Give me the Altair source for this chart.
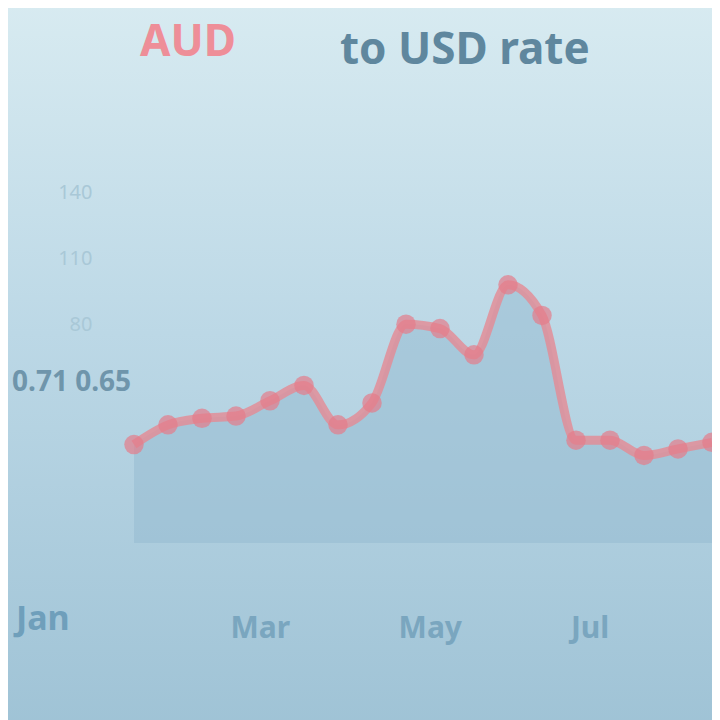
import altair as alt
import pandas as pd

# Data read from the (blurred) reference
steps = list(range(18))
values = [25, 34, 37, 38, 45, 52, 34, 44, 80, 78, 66, 98, 84, 27, 27, 20, 23, 26]
x_tick_steps = [3.7, 8.7, 13.4]
x_tick_labels = ["Mar", "May", "Jul"]
y_ticks = [80, 110, 140]

df = pd.DataFrame({"step": steps, "value": values})

W, H = 612, 372
PL, PT = 92, 163

bg = alt.Chart(pd.DataFrame({"a": [0]})).mark_rect(
    color=alt.Gradient(
        gradient="linear",
        stops=[alt.GradientStop(color="#d8ebf1", offset=0),
               alt.GradientStop(color="#bcd8e6", offset=0.45),
               alt.GradientStop(color="#9ec2d5", offset=1)],
        x1=0, x2=0, y1=0, y2=1,
    )
).encode(x=alt.value(-PL - 10), x2=alt.value(W + 20),
         y=alt.value(-PT - 10), y2=alt.value(H + 200))

label_expr = "datum.value < 5 ? 'Mar' : datum.value < 10 ? 'May' : 'Jul'"
x_enc = alt.X("step:Q", scale=alt.Scale(domain=[-1, 17], nice=False),
              axis=alt.Axis(values=x_tick_steps, labelExpr=label_expr,
                            title=None, domain=False, ticks=False, grid=False,
                            labelFontSize=30, labelColor="#7aa6bf", labelPadding=70,
                            labelFont="Noto Sans", labelFontWeight="bold", zindex=1))
y_enc = alt.Y("value:Q", scale=alt.Scale(domain=[-20, 150], nice=False),
              axis=alt.Axis(values=y_ticks, title=None, domain=False, ticks=False,
                            grid=False, labelFontSize=20, labelColor="#a9c8d7",
                            labelPadding=8, labelFont="Noto Sans", zindex=1))

area = alt.Chart(df).mark_area(color="#93bad0", opacity=0.5, interpolate="monotone").encode(
    x=x_enc, y=y_enc, y2=alt.datum(-20))

line = alt.Chart(df).mark_line(color="#e58a94", strokeWidth=9, opacity=0.8,
                               interpolate="monotone").encode(x=x_enc, y=y_enc)

pts = alt.Chart(df).mark_circle(color="#e47c8a", size=380, opacity=0.7).encode(
    x=x_enc, y=y_enc)

title_red = alt.Chart(pd.DataFrame({"t": ["AUD"]})).mark_text(
    color="#ee8e98", fontSize=44, fontWeight="bold", align="left", font="Noto Sans"
).encode(text="t:N", x=alt.value(40), y=alt.value(-128))

title_gray = alt.Chart(pd.DataFrame({"t": ["to USD rate"]})).mark_text(
    color="#5f879e", fontSize=44, fontWeight="bold", align="left", font="Noto Sans"
).encode(text="t:N", x=alt.value(240), y=alt.value(-120))

side = alt.Chart(pd.DataFrame({"t": ["0.71 0.65"]})).mark_text(
    color="#6f95ab", fontSize=28, fontWeight="bold", align="left", font="Noto Sans"
).encode(text="t:N", x=alt.value(-88), y=alt.value(212))

bottom_left = alt.Chart(pd.DataFrame({"t": ["Jan"]})).mark_text(
    color="#6f9fbb", fontSize=34, fontWeight="bold", align="left", font="Noto Sans"
).encode(text="t:N", x=alt.value(-84), y=alt.value(449))

chart = alt.layer(bg, area, line, pts, title_red, title_gray, side, bottom_left).properties(
    width=W, height=H, background="#cfe3ec",
    autosize=alt.AutoSizeParams(type="none"),
    padding={"left": PL, "top": PT, "right": 0, "bottom": 177},
).configure_view(stroke=None)

chart.save("out.html", embed_options={"renderer": "svg", "actions": False})
